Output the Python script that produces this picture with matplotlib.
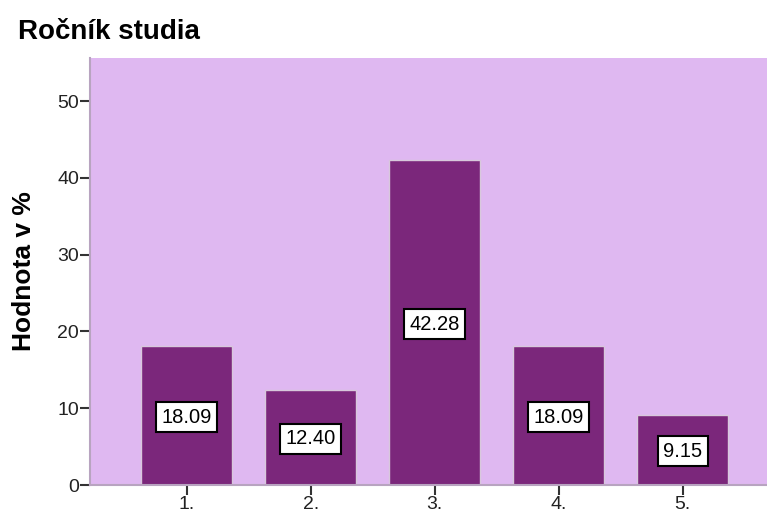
import matplotlib.pyplot as plt
import numpy as np

plt.rcParams['font.family'] = ['Liberation Sans', 'DejaVu Sans']

rocnik = ['1.', '2.', '3.', '4.', '5.']
procenta = [18.09, 12.40, 42.28, 18.09, 9.15]

fig = plt.figure(figsize=(7.67, 5.19), dpi=100)
ax = fig.add_axes([90 / 767, 1 - 485 / 519, 677 / 767, 427 / 519])
ax.set_facecolor('#dfb8f1')

x = np.arange(len(rocnik))
ax.bar(x, procenta, width=0.73, color='#7b277b', edgecolor='#d8c8dc', linewidth=1.0)

# value boxes sit at the middle of each bar
for xi, v in zip(x, procenta):
    ax.text(xi, v / 2 - 0.2, '%.2f' % v, ha='center', va='center', fontsize=14.5,
            bbox=dict(boxstyle='square,pad=0.27', facecolor='white',
                      edgecolor='black', linewidth=1.5))

ax.set_xlim(-0.78, 4.68)
ax.set_ylim(0, 55.6)
ax.set_xticks(x)
ax.set_xticklabels(rocnik)
ax.set_yticks([0, 10, 20, 30, 40, 50])
ax.tick_params(axis='both', direction='out', length=7, width=1.5, color='#333333',
               labelsize=14, labelcolor='#222222')
ax.tick_params(axis='x', pad=1)
ax.tick_params(axis='y', pad=1)

for side in ['top', 'right']:
    ax.spines[side].set_visible(False)
for side in ['left', 'bottom']:
    ax.spines[side].set_color('#b8a4c0')
    ax.spines[side].set_linewidth(1.5)

ax.set_ylabel('Hodnota v %', fontsize=19, fontweight='bold')
ax.yaxis.set_label_coords(-0.08, 0.5)
fig.text(18 / 767, 1 - 32 / 519, 'Ročník studia', fontsize=20, fontweight='bold',
         va='center', ha='left')

fig.savefig('out.png', dpi=100)
